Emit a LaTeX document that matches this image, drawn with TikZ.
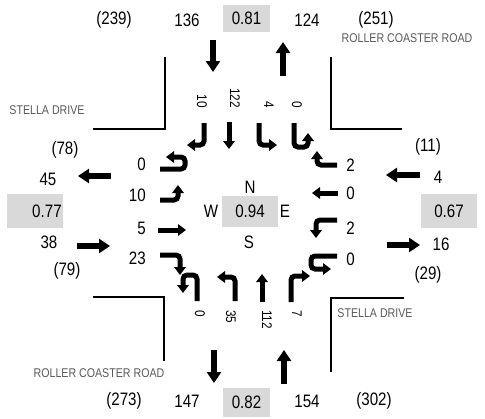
\documentclass[tikz,border=0pt]{standalone}
\usepackage{fontspec}
\setmainfont{Liberation Sans}[FakeStretch=0.84]
\usepackage{xcolor}
\definecolor{factorGray}{HTML}{D9D9D9}
\definecolor{streetGray}{HTML}{595959}
\usepackage{tikz}
\usetikzlibrary{
    arrows.meta,
    positioning
}
\tikzset{
    % Base style for all volumes
    count base/.style={
        font=\fontsize{13.5}{16}\selectfont,
        text=black,
        inner sep=0pt,
    },
    % Turning volumes written along the north and south lanes
    lane count/.style={
        font=\fontsize{10.5}{12}\selectfont,
        text=black,
        inner sep=0pt,
        rotate=-90,
    },
    % Peak hour factor boxes
    factor/.style={
        count base,
        fill=factorGray,
        minimum width=42pt,
        minimum height=25.5pt,
    },
    % Street names
    street/.style={
        font=\fontsize{9.5}{11}\selectfont,
        text=streetGray,
        inner sep=0pt,
    },
    % Curb lines at the corners
    curb/.style={
        line width=1.5pt,
    },
    % Lane arrows inside the intersection
    lane/.style={
        -{Triangle[length=6pt, width=8.5pt]},
        line width=3.75pt,
        rounded corners=3pt,
    },
    % Arrows on the four legs
    leg/.style={
        -{Triangle[length=8.25pt, width=10.5pt]},
        line width=4.9pt,
    },
}

\begin{document}
\begin{tikzpicture}[x=0.75pt, y=-0.75pt]
    \useasboundingbox (0,0) rectangle (485,418);

    % north leg
    \node (n_total_a) [count base] at (114,20) {(239)};
    \node (n_in) [count base] at (187,20) {136};
    \node (n_phf) [factor, minimum width=35.25pt, minimum height=20.25pt] at (246.5,18.5) {0.81};
    \node (n_out) [count base] at (307,20) {124};
    \node (n_total_b) [count base] at (376,20) {(251)};
    \draw [leg] (213,40) -- (213,72);
    \draw [leg] (283,76) -- (283,42);

    % south leg
    \node (s_total_a) [count base] at (124,401) {(273)};
    \node (s_out) [count base] at (187,401) {147};
    \node (s_phf) [factor, minimum width=35.25pt, minimum height=21.75pt] at (246.5,402.5) {0.82};
    \node (s_in) [count base] at (307,401) {154};
    \node (s_total_b) [count base] at (374,401) {(302)};
    \draw [leg] (214,350) -- (214,383);
    \draw [leg] (284,384) -- (284,350);

    % west leg
    \node (w_total_a) [count base] at (65,150) {(78)};
    \node (w_out) [count base] at (48,179) {45};
    \node (w_phf) [factor, text width=40pt, align=right, inner xsep=1pt] at (35,211) {0.77};
    \node (w_in) [count base] at (49,242) {38};
    \node (w_total_b) [count base] at (67,271) {(79)};
    \draw [leg] (111,176) -- (78,176);
    \draw [leg] (77,246) -- (110,246);

    % east leg
    \node (e_total_a) [count base] at (428,147) {(11)};
    \node (e_in) [count base] at (438,177) {4};
    \node (e_phf) [factor] at (449,211) {0.67};
    \node (e_out) [count base] at (441,244) {16};
    \node (e_total_b) [count base] at (428,275) {(29)};
    \draw [leg] (420,175) -- (386,175);
    \draw [leg] (387,245) -- (420,245);

    % corners and street names
    \draw [curb] (165,57) -- (165,129) -- (93,129);
    \draw [curb] (331,57) -- (331,129) -- (402,129);
    \draw [curb] (93,297) -- (164,297) -- (164,361);
    \draw [curb] (404,298) -- (331,298) -- (331,372);
    \node (rcr_top) [street] at (407,38) {ROLLER COASTER ROAD};
    \node (stella_left) [street] at (47,110) {STELLA DRIVE};
    \node (stella_right) [street] at (375,313) {STELLA DRIVE};
    \node (rcr_bottom) [street] at (99,373) {ROLLER COASTER ROAD};

    % compass and intersection factor
    \node (center) [factor, minimum height=23.25pt] at (250,211.5) {0.94};
    \node (north) [count base] at (250,187) {N};
    \node (west) [count base] at (211,211) {W};
    \node (east) [count base] at (285,211) {E};
    \node (south) [count base] at (249,242) {S};

    % west approach lanes
    \node (wb_uturn) [count base, anchor=east] at (146,164) {0};
    \node (wb_left) [count base, anchor=east] at (146,195) {10};
    \node (wb_thru) [count base, anchor=east] at (146,228) {5};
    \node (wb_right) [count base, anchor=east] at (146,258) {23};
    \draw [lane] (160,169) -- (185,169) -- (185,157) -- (166,157);
    \draw [lane] (160,200) -| (178,185);
    \draw [lane] (158,230) -- (186,230);
    \draw [lane] (160,255) -| (180,275);

    % east approach lanes
    \node (eb_right) [count base, anchor=west] at (346,165) {2};
    \node (eb_thru) [count base, anchor=west] at (346,193) {0};
    \node (eb_left) [count base, anchor=west] at (346,228) {2};
    \node (eb_uturn) [count base, anchor=west] at (346,259) {0};
    \draw [lane] (337,165) -| (317,151);
    \draw [lane] (338,193) -- (312,193);
    \draw [lane] (337,220) -| (316,238);
    \draw [lane] (337,256) -- (311,256) -- (311,269) -- (331,269);

    % north approach lanes
    \node (nb_right) [lane count, anchor=east] at (202,108) {10};
    \node (nb_thru) [lane count, anchor=east] at (235,108) {122};
    \node (nb_left) [lane count, anchor=east] at (269,108) {4};
    \node (nb_uturn) [lane count, anchor=east] at (297,108) {0};
    \draw [lane] (204,123) |- (187,145);
    \draw [lane] (229,122) -- (229,149);
    \draw [lane] (259,123) |- (277,145);
    \draw [lane] (294,123) -- (294,147) -- (308,147) -- (308,133);

    % south approach lanes
    \node (sb_uturn) [lane count, anchor=west] at (200,310) {0};
    \node (sb_left) [lane count, anchor=west] at (231,310) {35};
    \node (sb_thru) [lane count, anchor=west] at (267,310) {112};
    \node (sb_right) [lane count, anchor=west] at (297,310) {7};
    \draw [lane] (197,301) -- (197,275) -- (183,275) -- (183,293);
    \draw [lane] (235,301) |- (217,277);
    \draw [lane] (262,302) -- (262,274);
    \draw [lane] (291,302) |- (310,276);
\end{tikzpicture}
\end{document}
